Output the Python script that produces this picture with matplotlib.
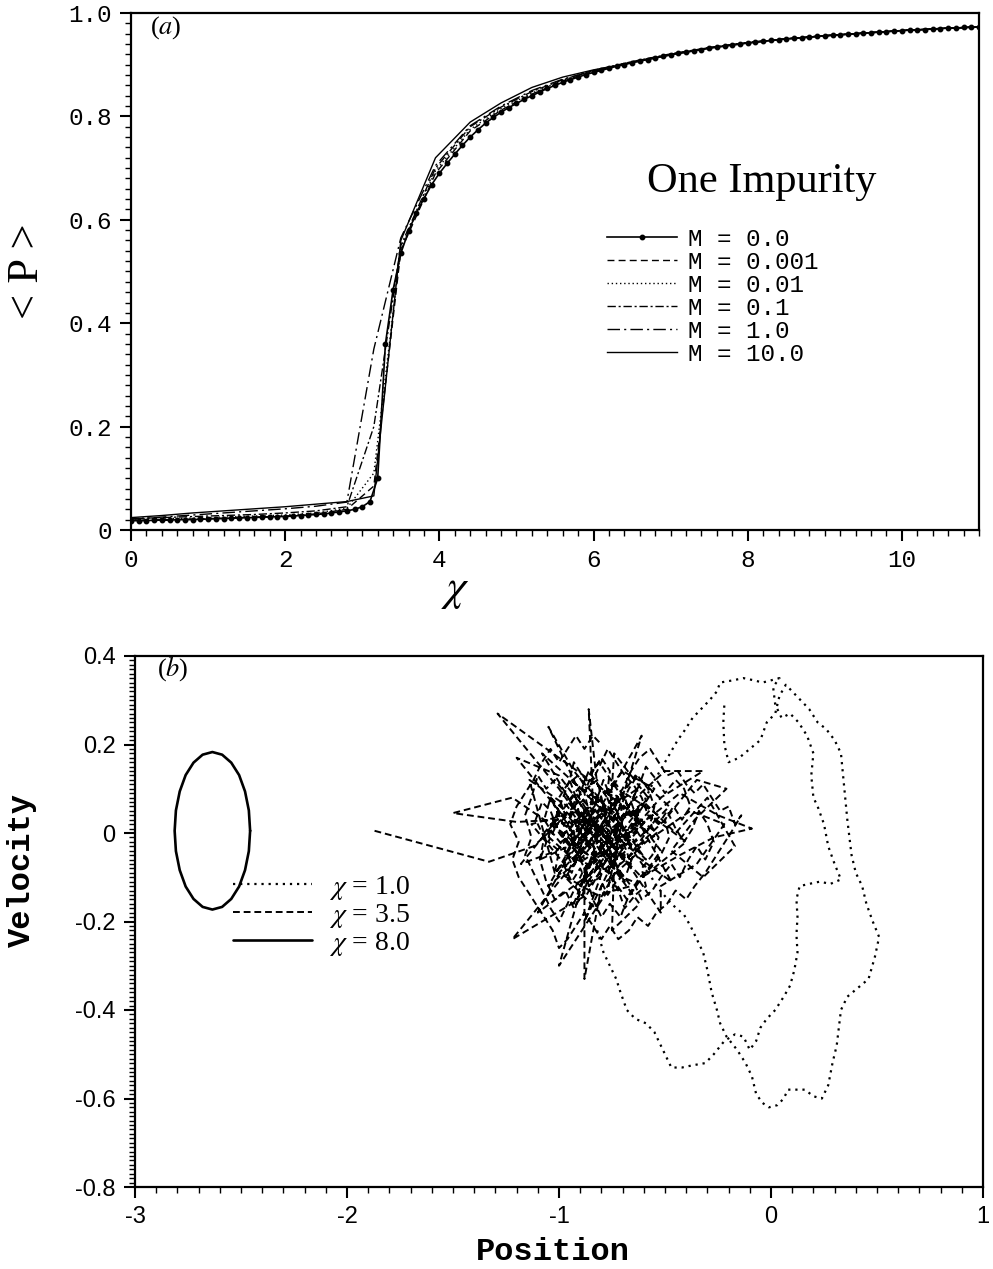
import numpy as np
import matplotlib
matplotlib.use('Agg')
import matplotlib.pyplot as plt
from matplotlib.ticker import MultipleLocator, FixedLocator, FixedFormatter

plt.rcParams['axes.unicode_minus'] = False
plt.rcParams['mathtext.fontset'] = 'stix'

# ---------------- panel (a) data ----------------
chi_fine = np.linspace(0, 11, 111)
p_m0 = [0.018, 0.018, 0.018, 0.019, 0.019, 0.019, 0.020, 0.020, 0.020, 0.021,
        0.021, 0.022, 0.022, 0.023, 0.023, 0.024, 0.024, 0.025, 0.025, 0.026,
        0.026, 0.027, 0.028, 0.029, 0.030, 0.031, 0.033, 0.035, 0.037, 0.040,
        0.045, 0.055, 0.100, 0.360, 0.465, 0.535, 0.578, 0.613, 0.641, 0.668,
        0.690, 0.709, 0.727, 0.744, 0.760, 0.774, 0.787, 0.798, 0.808, 0.817,
        0.825, 0.833, 0.840, 0.847, 0.854, 0.860, 0.866, 0.871, 0.876, 0.881,
        0.885, 0.889, 0.893, 0.897, 0.900, 0.904, 0.907, 0.910, 0.913, 0.916,
        0.919, 0.922, 0.924, 0.927, 0.929, 0.932, 0.934, 0.936, 0.938, 0.940,
        0.942, 0.944, 0.945, 0.947, 0.948, 0.950, 0.951, 0.952, 0.953, 0.955,
        0.956, 0.957, 0.958, 0.959, 0.960, 0.961, 0.962, 0.963, 0.964, 0.965,
        0.966, 0.967, 0.967, 0.968, 0.969, 0.970, 0.971, 0.971, 0.972, 0.973, 0.973]

chi_coarse = [0, 0.4, 0.8, 1.2, 1.6, 2.0, 2.4, 2.8, 3.15, 3.5, 3.95, 4.4, 4.8,
              5.2, 5.6, 6.0, 6.5, 7.0, 7.5, 8.0, 8.5, 9.0, 9.5, 10.0, 10.5, 11.0]
p_m0001 = [0.019, 0.020, 0.021, 0.023, 0.025, 0.027, 0.031, 0.040, 0.085, 0.540, 0.690, 0.772, 0.812,
           0.843, 0.868, 0.887, 0.905, 0.920, 0.933, 0.942, 0.950, 0.956, 0.961, 0.966, 0.970, 0.973]
p_m001 = [0.021, 0.022, 0.023, 0.025, 0.027, 0.029, 0.033, 0.042, 0.110, 0.545, 0.695, 0.775, 0.815,
          0.845, 0.870, 0.888, 0.906, 0.920, 0.933, 0.943, 0.950, 0.956, 0.961, 0.966, 0.970, 0.973]
p_m01 = [0.022, 0.024, 0.026, 0.028, 0.030, 0.033, 0.037, 0.045, 0.200, 0.550, 0.700, 0.780, 0.818,
         0.848, 0.871, 0.889, 0.906, 0.921, 0.933, 0.943, 0.950, 0.956, 0.961, 0.966, 0.970, 0.973]
p_m1 = [0.021, 0.025, 0.029, 0.033, 0.037, 0.041, 0.046, 0.054, 0.350, 0.565, 0.705, 0.782, 0.820,
        0.850, 0.872, 0.888, 0.905, 0.920, 0.933, 0.943, 0.950, 0.956, 0.961, 0.966, 0.970, 0.973]
p_m10 = [0.024, 0.028, 0.033, 0.037, 0.041, 0.045, 0.050, 0.055, 0.066, 0.560, 0.720, 0.789, 0.826,
         0.856, 0.876, 0.890, 0.904, 0.919, 0.932, 0.942, 0.950, 0.956, 0.961, 0.966, 0.970, 0.973]

# ---------------- panel (b) data ----------------
# chi = 1.0 trajectory (dotted)
traj1_x = [-0.82, -0.79, -0.76, -0.73, -0.71, -0.68, -0.64, -0.59, -0.55, -0.51, -0.47, -0.42, -0.37,
           -0.31, -0.27, -0.22, -0.17, -0.13, -0.10, -0.07, -0.05, -0.02, 0.02, 0.06, 0.09, 0.11,
           0.125, 0.12, 0.125, 0.12, 0.135, 0.18, 0.23, 0.28, 0.33, 0.30, 0.27, 0.25, 0.22, 0.20,
           0.19, 0.20, 0.17, 0.13, 0.09, 0.05, 0.02, 0.01, 0.04, 0.00, -0.04, -0.08, -0.13, -0.18,
           -0.24, -0.255, -0.29, -0.33, -0.37, -0.41, -0.44, -0.50, -0.56, -0.62, -0.64, -0.60, -0.54,
           -0.47, -0.41, -0.38, -0.35, -0.32, -0.30, -0.28, -0.255, -0.24, -0.21, -0.16, -0.12, -0.09,
           -0.07, -0.04, -0.01, 0.03, 0.06, 0.08, 0.12, 0.16, 0.20, 0.24, 0.27, 0.29, 0.31, 0.32,
           0.33, 0.36, 0.41, 0.46, 0.49, 0.51, 0.48, 0.45, 0.43, 0.40, 0.38, 0.37, 0.36, 0.35, 0.34,
           0.33, 0.30, 0.26, 0.22, 0.18, 0.14, 0.10, 0.07, 0.04, 0.02, -0.02, -0.05, -0.10, -0.15,
           -0.20, -0.22, -0.225, -0.22]
traj1_y = [-0.22, -0.27, -0.30, -0.33, -0.36, -0.40, -0.42, -0.43, -0.45, -0.49, -0.53, -0.53, -0.525,
           -0.52, -0.50, -0.47, -0.455, -0.46, -0.49, -0.47, -0.44, -0.42, -0.40, -0.37, -0.345, -0.31,
           -0.27, -0.23, -0.19, -0.15, -0.12, -0.115, -0.11, -0.115, -0.105, -0.07, -0.03, 0.02, 0.06, 0.08,
           0.13, 0.18, 0.22, 0.25, 0.27, 0.26, 0.29, 0.33, 0.35, 0.345, 0.34, 0.345, 0.35, 0.345,
           0.34, 0.32, 0.30, 0.28, 0.26, 0.23, 0.21, 0.16, 0.11, 0.05, -0.01, -0.07, -0.12,
           -0.16, -0.185, -0.21, -0.24, -0.27, -0.31, -0.36, -0.40, -0.43, -0.46, -0.49, -0.52, -0.55,
           -0.59, -0.61, -0.62, -0.615, -0.60, -0.58, -0.58, -0.58, -0.595, -0.60, -0.57, -0.52, -0.48, -0.44,
           -0.40, -0.37, -0.35, -0.33, -0.28, -0.235, -0.20, -0.16, -0.12, -0.09, -0.05, -0.01, 0.03, 0.08, 0.13,
           0.18, 0.21, 0.235, 0.25, 0.28, 0.30, 0.32, 0.335, 0.31, 0.27, 0.25, 0.21, 0.19, 0.17,
           0.16, 0.20, 0.25, 0.29]

# chi = 3.5 trajectory (dashed): long excursions, then the dense core
rays_x = [-1.87, -1.33, -1.12, -0.96, -0.84, -0.71, -0.83, -0.97, -0.76, -0.62, -0.88, -1.04, -0.85,
          -0.66, -0.79, -0.94, -1.13, -0.90, -0.71, -0.54, -0.74, -1.29, -1.00, -0.82, -0.93, -0.78,
          -0.63, -0.81, -0.99, -0.86, -0.70, -0.77, -1.00, -0.87, -0.73, -0.59, -0.77, -0.95, -1.09,
          -0.91, -0.75, -0.61, -0.72, -0.88, -1.05, -0.87, -0.69, -0.80, -0.96, -0.81, -0.66, -0.52,
          -0.68, -0.84, -1.00, -1.20, -1.50, -1.22, -0.98, -0.79, -0.88, -0.74, -0.57, -0.40, -0.58,
          -0.75, -0.92, -1.08, -0.92, -0.74, -0.87, -1.22, -0.95, -0.80, -0.64, -0.48, -0.64, -0.80,
          -0.97, -0.83, -0.69, -0.84, -1.01, -1.18, -1.01, -0.85, -0.70, -0.55, -0.70, -0.88, -0.88,
          -0.80, -0.64, -0.47, -0.63, -0.82, -0.86, -0.84, -0.99, -0.83, -0.66, -0.50, -0.32, -0.52,
          -0.70, -0.86, -1.02, -1.14, -0.96, -0.79, -0.62, -0.75, -0.74, -0.90, -0.73, -0.56, -0.38,
          -0.22, -0.35, -0.52, -0.52, -0.66, -0.83, -1.00, -1.20, -1.00, -0.82, -0.90, -0.74, -0.58,
          -0.74, -0.76, -0.93, -1.07, -0.92, -0.77, -0.61, -0.43, -0.27, -0.09, -0.25, -0.43, -0.61,
          -0.79, -0.96, -1.10, -0.93, -0.77, -0.93, -1.05, -0.88, -0.71, -0.86, -1.02, -0.85, -0.68,
          -0.53, -0.69, -0.84, -1.00, -0.82, -0.66, -0.80, -0.63, -0.78, -0.60, -0.45, -0.30, -0.17,
          -0.32, -0.47, -0.36, -0.21, -0.35, -0.50, -0.65, -0.80]
rays_y = [0.005, -0.065, -0.03, 0.04, -0.03, 0.02, 0.09, -0.05, -0.09, 0.05, 0.01, 0.08, -0.11,
          -0.03, 0.12, -0.09, 0.02, 0.05, -0.07, 0.00, 0.08, 0.27, 0.10, -0.02, -0.16, -0.05,
          0.10, 0.04, -0.02, 0.14, 0.03, -0.13, -0.30, -0.08, 0.01, -0.06, 0.06, 0.12, -0.06,
          -0.02, 0.10, 0.22, 0.05, -0.05, -0.12, 0.03, -0.11, 0.00, 0.07, 0.16, 0.05, -0.04,
          -0.15, -0.04, 0.03, 0.025, 0.045, 0.08, 0.00, -0.08, -0.20, -0.06, 0.04, -0.02, -0.09,
          0.03, 0.11, 0.18, 0.05, -0.03, -0.14, -0.24, -0.08, 0.06, -0.02, 0.06, 0.13, 0.02,
          -0.10, -0.17, -0.05, 0.09, 0.03, -0.07, -0.04, 0.05, 0.14, 0.10, -0.01, -0.08, -0.33,
          -0.12, -0.05, -0.11, 0.03, 0.11, 0.28, 0.07, -0.01, -0.06, 0.07, 0.14, 0.14, 0.08,
          -0.02, 0.00, -0.09, 0.12, 0.06, -0.05, -0.16, -0.22, -0.07, 0.04, 0.07, -0.01, 0.05,
          0.02, -0.07, -0.12, -0.18, -0.08, 0.02, 0.13, 0.17, 0.05, -0.04, -0.12, -0.02, 0.08,
          0.18, 0.03, -0.06, 0.00, 0.09, -0.02, -0.10, -0.05, -0.01, 0.01, 0.04, 0.09, 0.02,
          -0.07, -0.13, -0.18, -0.03, 0.05, 0.14, 0.24, 0.07, -0.01, -0.08, 0.02, 0.03, -0.06,
          0.04, 0.09, -0.01, -0.09, -0.14, -0.12, -0.03, 0.01, 0.00, 0.07, 0.00, 0.08, -0.03,
          -0.10, -0.04, 0.03, 0.10, 0.12, 0.03, -0.04, 0.02]
core_x = [-0.80, -0.85, -0.83, -0.88, -0.92, -0.90, -0.95, -0.93, -0.87, -0.84, -0.79, -0.76, -0.72,
          -0.74, -0.70, -0.75, -0.78, -0.73, -0.69, -0.66, -0.62, -0.64, -0.60, -0.65, -0.68, -0.73,
          -0.77, -0.81, -0.86, -0.90, -0.94, -0.98, -1.02, -1.00, -1.05, -1.01, -0.97, -1.00, -0.96,
          -0.91, -0.87, -0.82, -0.79, -0.83, -0.78, -0.82, -0.88, -0.91, -0.86, -0.81, -0.76, -0.71,
          -0.67, -0.63, -0.58, -0.55, -0.57, -0.53, -0.56, -0.61, -0.59, -0.64, -0.69, -0.72, -0.77,
          -0.75, -0.80, -0.85, -0.89, -0.93, -0.97, -1.02, -1.06, -1.09, -1.07, -1.11, -1.08, -1.04,
          -1.00, -0.95, -0.90, -0.86, -0.88, -0.84, -0.80, -0.76, -0.77, -0.72, -0.70, -0.73, -0.69,
          -0.66, -0.70, -0.74, -0.79, -0.84, -0.82, -0.87, -0.84, -0.80, -0.76, -0.71, -0.67, -0.62,
          -0.57, -0.52, -0.48, -0.50, -0.46, -0.42, -0.38, -0.41, -0.45, -0.50, -0.54, -0.59, -0.62,
          -0.66, -0.63, -0.67, -0.71, -0.76, -0.81, -0.85, -0.89, -0.93, -0.97, -1.02, -1.06, -1.10,
          -1.13, -1.16, -1.13, -1.16, -1.12, -1.08, -1.04, -1.00, -0.96, -0.92, -0.88, -0.83, -0.78,
          -0.74, -0.70, -0.65, -0.61, -0.56, -0.52, -0.47, -0.43, -0.39, -0.35, -0.31, -0.27, -0.30,
          -0.34, -0.37, -0.41, -0.45, -0.49, -0.53, -0.58, -0.61, -0.65, -0.69, -0.73, -0.77, -0.81,
          -0.85, -0.89, -0.93, -0.95, -0.92, -0.95, -0.91, -0.87, -0.90, -0.94, -0.98, -1.03, -1.07,
          -1.04, -1.00, -0.96, -0.92, -0.88, -0.83, -0.78, -0.74, -0.70, -0.66, -0.62, -0.57, -0.53,
          -0.49, -0.44, -0.40, -0.36, -0.32, -0.28, -0.24, -0.20, -0.17, -0.14, -0.19, -0.23, -0.27,
          -0.31, -0.36, -0.40, -0.45, -0.49, -0.54, -0.58, -0.63, -0.67, -0.72, -0.76, -0.80, -0.84,
          -0.88, -0.92, -0.96, -1.00, -1.03, -1.07, -1.11, -1.15, -1.19, -1.22, -1.19, -1.23, -1.20,
          -1.16, -1.12, -1.08, -1.04, -1.00, -0.96, -0.92, -0.88, -0.84, -0.80]
core_y = [0.00, 0.03, 0.07, 0.05, 0.08, 0.03, 0.01, -0.03, -0.01, -0.05, -0.03, -0.07, -0.04,
          0.00, 0.03, 0.05, 0.09, 0.11, 0.08, 0.04, 0.06, 0.01, -0.02, -0.05, -0.09, -0.11,
          -0.14, -0.10, -0.12, -0.08, -0.11, -0.07, -0.09, -0.04, -0.02, 0.02, 0.04, 0.08, 0.11,
          0.13, 0.10, 0.12, 0.06, 0.02, -0.01, -0.04, -0.06, -0.02, 0.01, 0.04, 0.02, 0.06,
          0.10, 0.13, 0.10, 0.06, 0.02, -0.01, -0.05, -0.08, -0.12, -0.14, -0.17, -0.13, -0.09,
          -0.05, -0.07, -0.09, -0.14, -0.17, -0.13, -0.15, -0.11, -0.06, -0.01, 0.03, 0.07, 0.05,
          0.00, -0.03, 0.00, 0.05, 0.09, 0.14, 0.17, 0.14, 0.10, 0.08, 0.04, 0.00, -0.03,
          -0.07, -0.06, -0.03, 0.01, -0.02, -0.08, -0.10, -0.15, -0.19, -0.16, -0.19, -0.14, -0.10,
          -0.08, -0.05, -0.01, 0.03, 0.06, 0.03, 0.06, 0.10, 0.12, 0.09, 0.12, 0.15, 0.11,
          0.07, 0.03, 0.00, -0.02, -0.01, 0.02, 0.00, 0.03, 0.06, 0.09, 0.12, 0.10, 0.13,
          0.08, 0.04, -0.01, -0.05, -0.09, -0.13, -0.17, -0.20, -0.16, -0.12, -0.08, -0.05, -0.04,
          -0.08, -0.10, -0.11, -0.15, -0.13, -0.10, -0.07, -0.10, -0.06, -0.03, -0.06, -0.02, 0.02,
          0.05, 0.01, -0.02, 0.01, 0.05, 0.02, 0.04, 0.08, 0.11, 0.13, 0.16, 0.19, 0.15,
          0.11, 0.13, 0.16, 0.12, 0.08, 0.04, 0.01, -0.02, -0.05, -0.07, -0.03, 0.00, 0.03,
          0.08, 0.05, 0.02, -0.01, 0.02, 0.05, 0.04, 0.07, 0.10, 0.14, 0.17, 0.19, 0.16,
          0.13, 0.14, 0.11, 0.09, 0.11, 0.08, 0.05, 0.06, 0.02, 0.04, 0.00, -0.03, -0.06,
          -0.09, -0.12, -0.15, -0.13, -0.16, -0.18, -0.21, -0.19, -0.22, -0.24, -0.21, -0.24, -0.21,
          -0.18, -0.21, -0.24, -0.26, -0.22, -0.19, -0.16, -0.13, -0.10, -0.06, -0.02, 0.02, 0.06,
          0.09, 0.12, 0.16, 0.19, 0.16, 0.19, 0.22, 0.19, 0.22, 0.20]
traj2_x = rays_x + core_x
traj2_y = rays_y + core_y

# chi = 8.0 orbit (solid)
orbit_x = [-2.457, -2.463, -2.481, -2.509, -2.546, -2.589, -2.635, -2.681, -2.724, -2.761, -2.789,
           -2.807, -2.813, -2.807, -2.789, -2.761, -2.724, -2.681, -2.635, -2.589, -2.546, -2.509,
           -2.481, -2.463, -2.457]
orbit_y = [0.005, 0.051, 0.094, 0.131, 0.159, 0.177, 0.183, 0.177, 0.159, 0.131, 0.094,
           0.051, 0.005, -0.041, -0.084, -0.121, -0.149, -0.167, -0.173, -0.167, -0.149, -0.121,
           -0.084, -0.041, 0.005]

fig = plt.figure(figsize=(9.93, 12.69), dpi=100)
ax1 = fig.add_axes([131 / 993, 1 - 530 / 1269, 848 / 993, 517 / 1269])
ax2 = fig.add_axes([135 / 993, 1 - 1187 / 1269, 848 / 993, 531 / 1269])

mono = 'Liberation Mono'
serif = 'Liberation Serif'
sans = 'Liberation Sans'

# ---------------- panel (a) ----------------
ax1.plot(chi_fine, p_m0, color='black', lw=1.2, marker='o', ms=3.2, label='M = 0.0')
ax1.plot(chi_coarse, p_m0001, color='black', lw=1.0, linestyle=(0, (5, 3)), label='M = 0.001')
ax1.plot(chi_coarse, p_m001, color='black', lw=1.0, linestyle=(0, (1, 2)), label='M = 0.01')
ax1.plot(chi_coarse, p_m01, color='black', lw=1.0, linestyle=(0, (6, 2, 1.5, 2)), label='M = 0.1')
ax1.plot(chi_coarse, p_m1, color='black', lw=1.0, linestyle=(0, (9, 3, 1.5, 3)), label='M = 1.0')
ax1.plot(chi_coarse, p_m10, color='black', lw=1.0, label='M = 10.0')

ax1.set_xlim(0, 11)
ax1.set_ylim(0, 1.0)
ax1.xaxis.set_major_locator(FixedLocator([0, 2, 4, 6, 8, 10]))
ax1.xaxis.set_major_formatter(FixedFormatter(['0', '2', '4', '6', '8', '10']))
ax1.xaxis.set_minor_locator(MultipleLocator(0.2))
ax1.yaxis.set_major_locator(FixedLocator([0, 0.2, 0.4, 0.6, 0.8, 1.0]))
ax1.yaxis.set_major_formatter(FixedFormatter(['0', '0.2', '0.4', '0.6', '0.8', '1.0']))
ax1.yaxis.set_minor_locator(MultipleLocator(0.02))
ax1.tick_params(which='major', direction='out', length=8, width=1.5, labelsize=17.5, pad=6)
ax1.tick_params(which='minor', direction='out', length=4, width=1.0)
for lab in ax1.get_xticklabels() + ax1.get_yticklabels():
    lab.set_family(mono)
for s in ax1.spines.values():
    s.set_linewidth(1.6)

ax1.set_ylabel('< P >', family=serif, fontsize=32, va='center')
ax1.yaxis.set_label_coords(-0.123, 0.5)
ax1.set_xlabel(r'$\chi$', fontsize=32, va='center')
ax1.xaxis.set_label_coords(0.383, -0.116)

ax1.text(0.022, 0.971, '($a$)', transform=ax1.transAxes, family=serif,
         fontsize=19, ha='left', va='center')
ax1.text(0.744, 0.673, 'One Impurity', transform=ax1.transAxes, family=serif,
         fontsize=30.5, ha='center', va='center')

leg1 = ax1.legend(loc='upper left', bbox_to_anchor=(0.561, 0.585), frameon=False,
                  prop={'family': mono, 'size': 17.5}, handlelength=2.9, handletextpad=0.45,
                  labelspacing=0.0, borderpad=0, borderaxespad=0, numpoints=1)

# ---------------- panel (b) ----------------
ax2.plot(traj1_x, traj1_y, color='black', lw=1.6, linestyle=(0, (1, 2.2)), label=r'$\chi$ = 1.0')
ax2.plot(traj2_x, traj2_y, color='black', lw=1.4, linestyle=(0, (3.5, 2)), label=r'$\chi$ = 3.5')
ax2.plot(orbit_x, orbit_y, color='black', lw=1.9, solid_capstyle='round',
         solid_joinstyle='round', label=r'$\chi$ = 8.0')

ax2.set_xlim(-3, 1)
ax2.set_ylim(-0.8, 0.4)
ax2.xaxis.set_major_locator(FixedLocator([-3, -2, -1, 0, 1]))
ax2.xaxis.set_major_formatter(FixedFormatter(['-3', '-2', '-1', '0', '1']))
ax2.xaxis.set_minor_locator(MultipleLocator(0.1))
ax2.yaxis.set_major_locator(FixedLocator([-0.8, -0.6, -0.4, -0.2, 0, 0.2, 0.4]))
ax2.yaxis.set_major_formatter(FixedFormatter(['-0.8', '-0.6', '-0.4', '-0.2', '0', '0.2', '0.4']))
ax2.yaxis.set_minor_locator(MultipleLocator(0.01))
ax2.tick_params(which='major', direction='out', length=8, width=1.5, labelsize=17, pad=6)
ax2.tick_params(which='minor', direction='out', length=4, width=1.0)
for lab in ax2.get_xticklabels() + ax2.get_yticklabels():
    lab.set_family(sans)
for s in ax2.spines.values():
    s.set_linewidth(1.6)

ax2.set_ylabel('Velocity', family=mono, weight='bold', fontsize=23, va='center')
ax2.yaxis.set_label_coords(-0.133, 0.597)
ax2.set_xlabel('Position', family=mono, weight='bold', fontsize=23, va='center')
ax2.xaxis.set_label_coords(0.493, -0.122)

ax2.text(0.026, 0.977, '($b$)', transform=ax2.transAxes, family=serif,
         fontsize=19, ha='left', va='center')

leg2 = ax2.legend(loc='upper left', bbox_to_anchor=(0.1156, 0.59), frameon=False,
                  prop={'family': serif, 'size': 20}, handlelength=2.85, handletextpad=0.6,
                  labelspacing=0.0, borderpad=0, borderaxespad=0)

fig.savefig('out.png', dpi=100)
